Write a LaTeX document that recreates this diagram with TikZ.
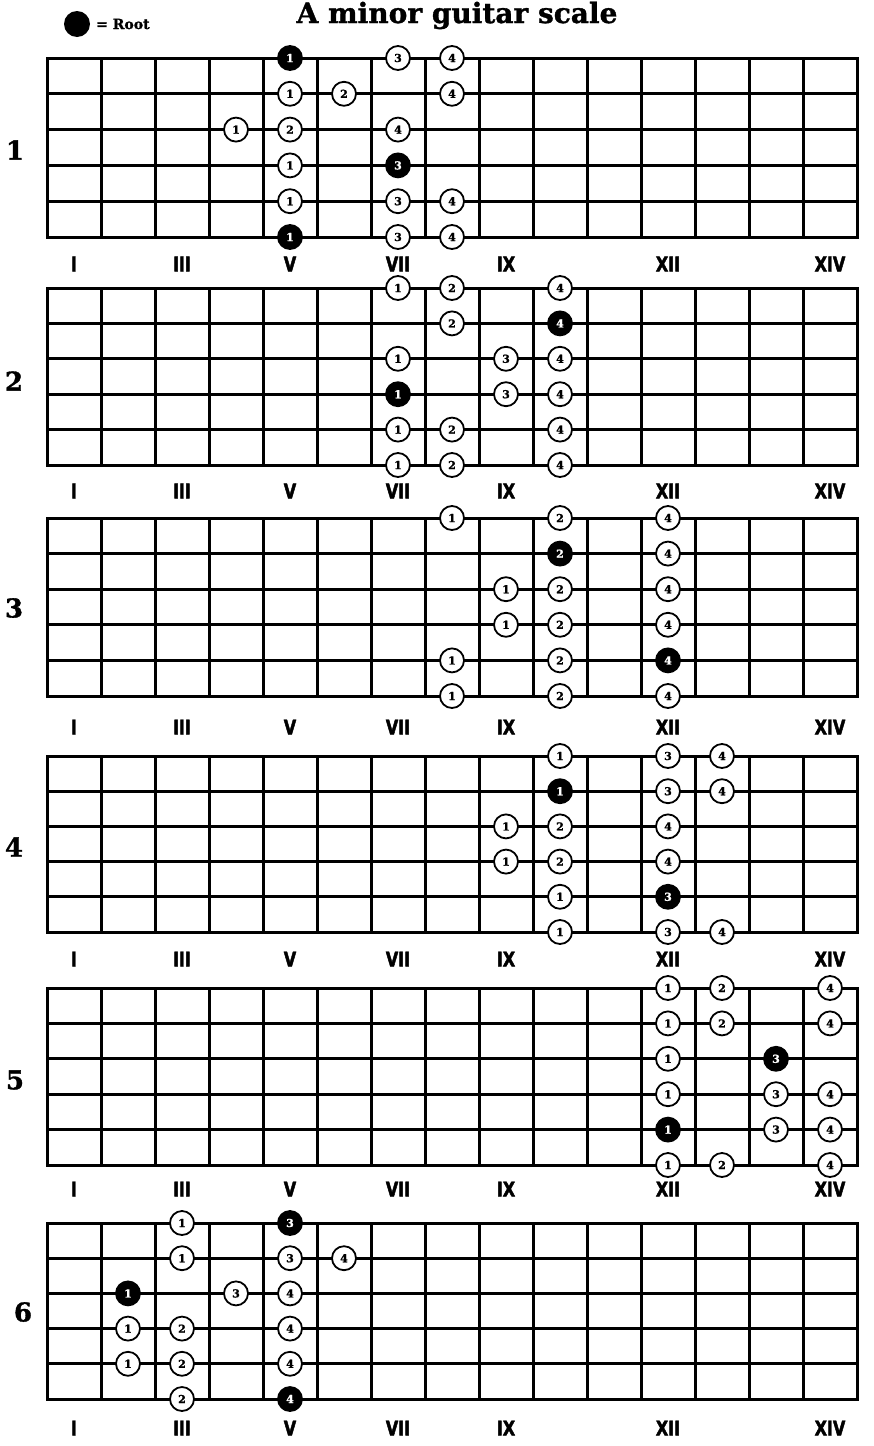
\documentclass[tikz,border=0pt]{standalone}
\usepackage{fontspec}
\setmainfont{DejaVu Serif}
\newfontfamily\heavyserif{DejaVu Serif}[BoldFeatures={FakeBold=1.2}]
\newfontfamily\fretfam{DejaVu Sans}[FakeStretch=0.8, BoldFeatures={FakeBold=2.2}]
\tikzset{
  gridline/.style={line width=3pt, line cap=rect},
  note/.style={circle, draw=black, fill=white, line width=1.8pt, minimum size=24pt, inner sep=0pt,
    font=\fontsize{11}{11}\heavyserif\bfseries},
  root/.style={note, fill=black, text=white},
  fretlbl/.style={font=\fontsize{20}{20}\fretfam\bfseries, inner sep=0pt},
  sidelbl/.style={font=\fontsize{26}{26}\heavyserif\bfseries, inner sep=0pt},
  titlelbl/.style={font=\fontsize{28}{28}\heavyserif\bfseries, inner sep=0pt},
  legendlbl/.style={font=\fontsize{14}{14}\heavyserif\bfseries, inner sep=0pt},
  legenddot/.style={circle, fill=black, minimum size=26pt, inner sep=0pt}
}
% #1 id, #2 top y, #3 bottom y, #4 fret label y, #5 side label position, #6 notes
\newcommand\drawboard[6]{%
  \pgfmathsetmacro\bsp{(#3-#2)/5}
  \foreach \k in {0,...,5}
    \draw[gridline] (47,{#2+\k*\bsp}) -- (857,{#2+\k*\bsp});
  \foreach \k in {0,...,15}
    \draw[gridline] ({47+\k*54},#2) -- ({47+\k*54},#3);
  \node[sidelbl] (side#1) at #5 {#1};
  \foreach \t/\x in {I/74,III/182,V/290,VII/398,IX/506,XII/668,XIV/830}
    \node[fretlbl] (f#1-\t) at (\x,#4) {\t};
  \foreach \r/\c/\n/\s in {#6}
    \node[\s] (n#1-\r-\c) at ({54*\c+20},{#2+(\r-1)*\bsp}) {\n};
}
\begin{document}
\begin{tikzpicture}[x=1pt,y=-1pt]
\useasboundingbox (0,0) rectangle (873,1446);
\node[legenddot] (legend) at (77,24) {};
\node[legendlbl, anchor=west] (legendtext) at (96,24) {= Root};
\node[titlelbl, anchor=base] (title) at (457,23) {A minor guitar scale};

\drawboard{1}{58}{237}{264}{(15,150)}{%
1/5/1/root, 1/7/3/note, 1/8/4/note,
2/5/1/note, 2/6/2/note, 2/8/4/note,
3/4/1/note, 3/5/2/note, 3/7/4/note,
4/5/1/note, 4/7/3/root,
5/5/1/note, 5/7/3/note, 5/8/4/note,
6/5/1/root, 6/7/3/note, 6/8/4/note}

\drawboard{2}{288}{465}{491}{(14,381)}{%
1/7/1/note, 1/8/2/note, 1/10/4/note,
2/8/2/note, 2/10/4/root,
3/7/1/note, 3/9/3/note, 3/10/4/note,
4/7/1/root, 4/9/3/note, 4/10/4/note,
5/7/1/note, 5/8/2/note, 5/10/4/note,
6/7/1/note, 6/8/2/note, 6/10/4/note}

\drawboard{3}{518}{696}{727}{(14,608)}{%
1/8/1/note, 1/10/2/note, 1/12/4/note,
2/10/2/root, 2/12/4/note,
3/9/1/note, 3/10/2/note, 3/12/4/note,
4/9/1/note, 4/10/2/note, 4/12/4/note,
5/8/1/note, 5/10/2/note, 5/12/4/root,
6/8/1/note, 6/10/2/note, 6/12/4/note}

\drawboard{4}{756}{932}{959}{(14,847)}{%
1/10/1/note, 1/12/3/note, 1/13/4/note,
2/10/1/root, 2/12/3/note, 2/13/4/note,
3/9/1/note, 3/10/2/note, 3/12/4/note,
4/9/1/note, 4/10/2/note, 4/12/4/note,
5/10/1/note, 5/12/3/root,
6/10/1/note, 6/12/3/note, 6/13/4/note}

\drawboard{5}{988}{1165}{1189}{(15,1080)}{%
1/12/1/note, 1/13/2/note, 1/15/4/note,
2/12/1/note, 2/13/2/note, 2/15/4/note,
3/12/1/note, 3/14/3/root,
4/12/1/note, 4/14/3/note, 4/15/4/note,
5/12/1/root, 5/14/3/note, 5/15/4/note,
6/12/1/note, 6/13/2/note, 6/15/4/note}

\drawboard{6}{1223}{1399}{1428}{(23,1312)}{%
1/3/1/note, 1/5/3/root,
2/3/1/note, 2/5/3/note, 2/6/4/note,
3/2/1/root, 3/4/3/note, 3/5/4/note,
4/2/1/note, 4/3/2/note, 4/5/4/note,
5/2/1/note, 5/3/2/note, 5/5/4/note,
6/3/2/note, 6/5/4/root}
\end{tikzpicture}
\end{document}
